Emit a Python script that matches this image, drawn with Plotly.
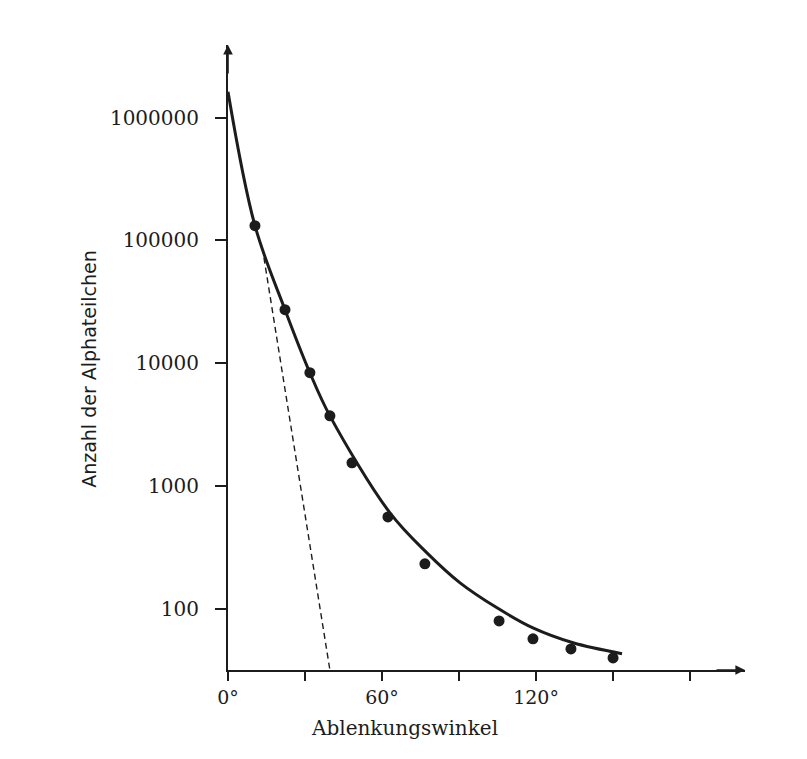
import plotly.graph_objects as go
import math

# Measured points (deflection angle in degrees, number of alpha particles)
point_angle = [10.5, 22.2, 31.9, 39.7, 48.3, 62.3, 76.7, 105.6, 118.8, 133.6, 150.0]
point_count = [131800, 27300, 8370, 3730, 1545, 561, 233, 79.8, 57, 47.2, 39.9]

# Solid curve
curve_angle = [0, 10.5, 22.2, 31.9, 39.7, 63.1, 77.5, 90.4, 104.8, 118.8, 134.4, 153.5]
curve_count = [1620000, 131800, 27300, 8370, 3730, 605, 286, 163, 102, 70, 53, 43.2]

# Dashed line
dash_angle = [14.0, 39.7]
dash_count = [72300, 31.8]

# Ticks
x_tickvals = [0, 30, 60, 90, 120, 150, 180]
x_ticktext = ["0°", "", "60°", "", "120°", "", ""]
y_tickvals = [100, 1000, 10000, 100000, 1000000]
y_ticktext = ["100", "1000", "10000", "100000", "1000000"]

x_max = 201.4
y_min, y_max = 31.8, 3.9e6

ink = "#1c1c1c"
serif = "DejaVu Serif"

fig = go.Figure()
fig.add_trace(go.Scatter(x=curve_angle, y=curve_count, mode="lines",
                         line=dict(color=ink, width=3, shape="spline", smoothing=1.0),
                         cliponaxis=False, showlegend=False))
fig.add_trace(go.Scatter(x=dash_angle, y=dash_count, mode="lines",
                         line=dict(color=ink, width=1.4, dash="6px,4px"),
                         cliponaxis=False, showlegend=False))
fig.add_trace(go.Scatter(x=point_angle, y=point_count, mode="markers",
                         marker=dict(color=ink, size=11, symbol="circle"),
                         cliponaxis=False, showlegend=False))

fig.update_layout(
    width=807, height=759,
    margin=dict(l=228, r=807 - 745, t=45, b=759 - 670),
    paper_bgcolor="white", plot_bgcolor="white",
    font=dict(family=serif, color=ink, size=18),
    xaxis=dict(range=[0, x_max], tickvals=x_tickvals, ticktext=x_ticktext,
               ticks="outside", ticklen=9, tickwidth=1.5, tickcolor=ink,
               showline=True, linewidth=2, linecolor=ink,
               showgrid=False, zeroline=False,
               tickfont=dict(family=serif, size=19, color=ink)),
    yaxis=dict(type="log", range=[math.log10(y_min), math.log10(y_max)],
               tickvals=y_tickvals, ticktext=y_ticktext,
               ticks="outside", ticklen=11, tickwidth=1.5, tickcolor=ink,
               ticklabelstandoff=12,
               showline=True, linewidth=2, linecolor=ink,
               showgrid=False, zeroline=False,
               tickfont=dict(family=serif, size=20, color=ink)),
)

# Arrow heads on the axes
fig.add_annotation(x=1, y=0, xref="paper", yref="paper", ax=-30, ay=0,
                   text="", showarrow=True, arrowhead=2, arrowsize=1.2,
                   arrowwidth=1.6, arrowcolor=ink)
fig.add_annotation(x=0, y=1, xref="paper", yref="paper", ax=0, ay=30,
                   text="", showarrow=True, arrowhead=2, arrowsize=1.2,
                   arrowwidth=1.6, arrowcolor=ink)

# Axis titles
fig.add_annotation(x=0, y=math.log10(9000), xref="paper", yref="y",
                   xshift=-139, xanchor="center", yanchor="middle",
                   text="Anzahl der Alphateilchen", textangle=-90,
                   showarrow=False, font=dict(family="DejaVu Sans", size=19, color=ink))
fig.add_annotation(x=68.6, y=0, xref="x", yref="paper", yshift=-58,
                   xanchor="center", yanchor="middle",
                   text="Ablenkungswinkel", showarrow=False,
                   font=dict(family=serif, size=20, color=ink))

fig.write_html("out.html")
